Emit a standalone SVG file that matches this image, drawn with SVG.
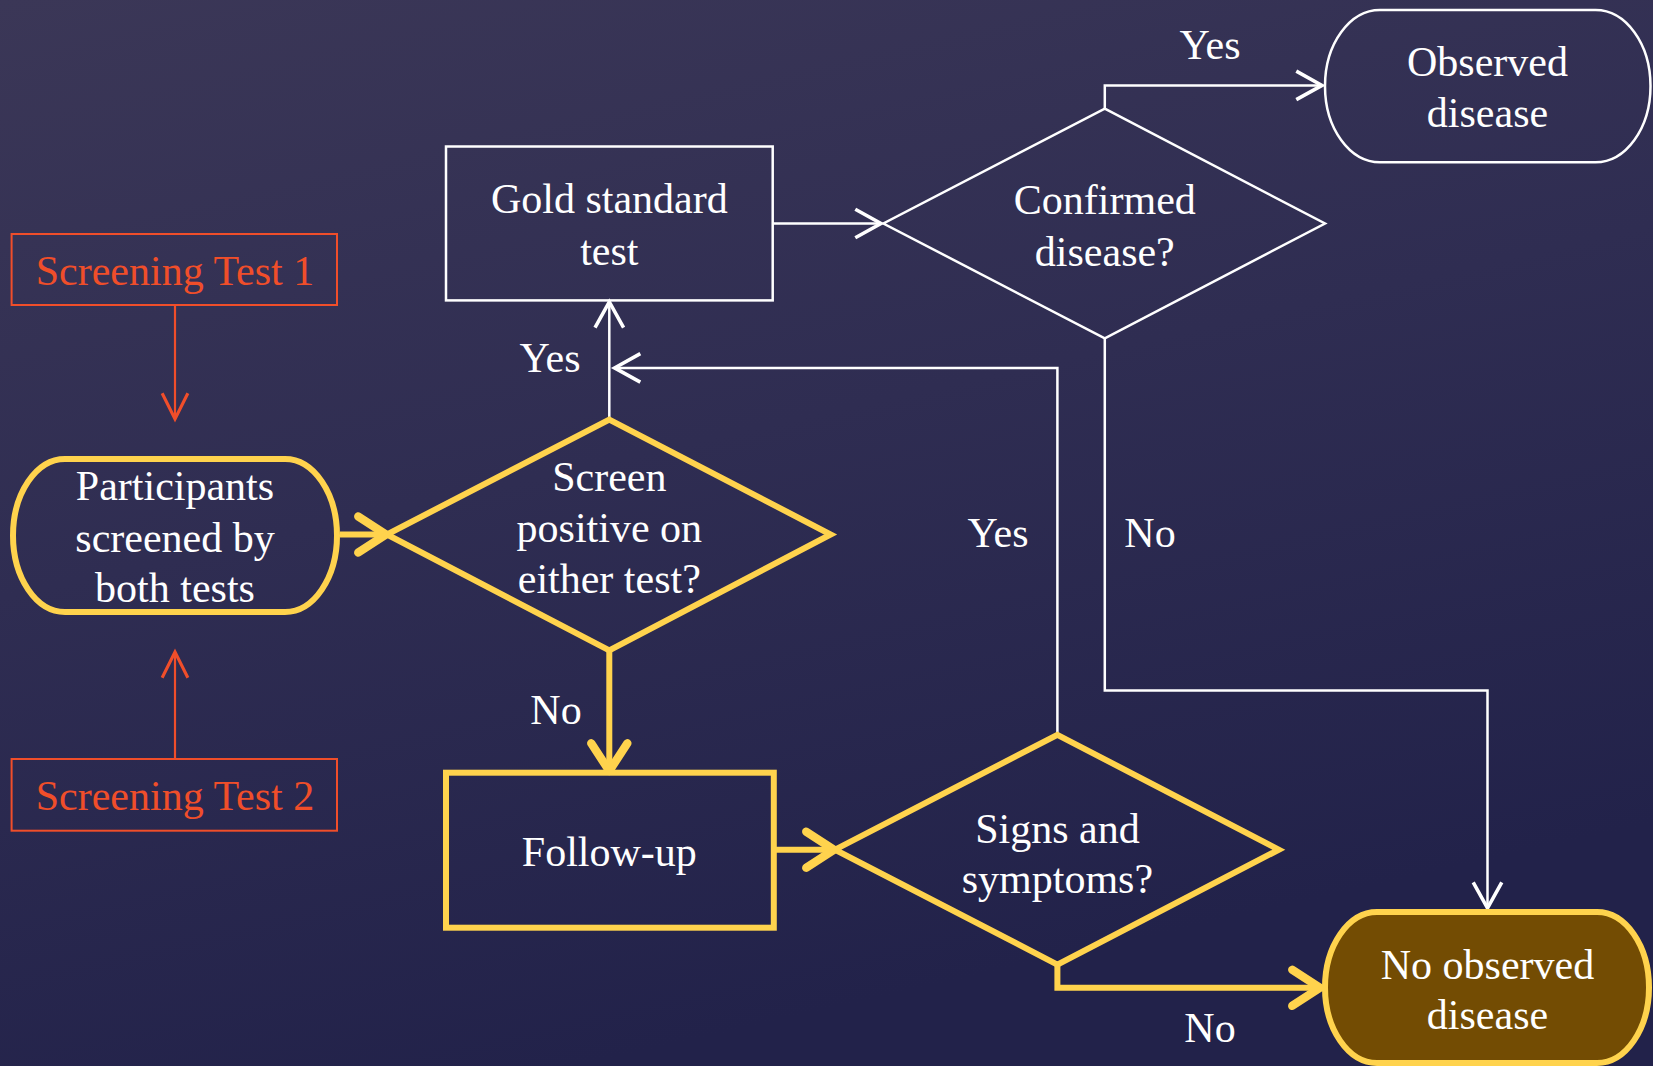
<svg xmlns="http://www.w3.org/2000/svg" width="1653" height="1066" viewBox="0 0 1653 1066">
<defs>
<linearGradient id="bg" x1="0" y1="0" x2="0.35" y2="1">
<stop offset="0" stop-color="#3b3757"/>
<stop offset="0.5" stop-color="#2f2d52"/>
<stop offset="1" stop-color="#22224a"/>
</linearGradient>
<marker id="aw" markerUnits="userSpaceOnUse" orient="auto" refX="0" refY="0" markerWidth="40" markerHeight="40" viewBox="-22 -14 26 28" overflow="visible">
<path d="M -18 -10 L 0 0 L -18 10" fill="none" stroke="#ffffff" stroke-width="2.5"/>
</marker>
<marker id="ar" markerUnits="userSpaceOnUse" orient="auto" refX="0" refY="0" markerWidth="40" markerHeight="40" viewBox="-22 -14 26 28" overflow="visible">
<path d="M -18 -9 L 0 0 L -18 9" fill="none" stroke="#f04e2a" stroke-width="2.2"/>
</marker>
<marker id="ay" markerUnits="userSpaceOnUse" orient="auto" refX="0" refY="0" markerWidth="50" markerHeight="50" viewBox="-26 -18 30 36" overflow="visible">
<path d="M -20 -13 L 0 0 L -20 13" fill="none" stroke="#ffd34d" stroke-width="6" stroke-linecap="round" stroke-linejoin="round"/>
</marker>
</defs>
<style>
text{font-family:"Liberation Serif","Times New Roman",serif;font-size:42px;fill:#ffffff;text-anchor:middle}
.red{fill:#f04e2a}
.wn{fill:none;stroke:#ffffff;stroke-width:2.5}
.yn{fill:none;stroke:#ffd34d;stroke-width:6}
.rn{fill:none;stroke:#f04e2a;stroke-width:2}
.wl{fill:none;stroke:#ffffff;stroke-width:2.5}
.yl{fill:none;stroke:#ffd34d;stroke-width:6}
.rl{fill:none;stroke:#f04e2a;stroke-width:2.2}
</style>
<rect x="0" y="0" width="1653" height="1066" fill="url(#bg)"/>

<g id="connectors">
<polyline class="wl" points="1104.8,108.6 1104.8,85.4 1322,85.4" marker-end="url(#aw)"/>
<polyline class="wl" points="772.7,223.5 881,223.5" marker-end="url(#aw)"/>
<polyline class="wl" points="609.3,419.6 609.3,302" marker-end="url(#aw)"/>
<polyline class="wl" points="1057.4,734.8 1057.4,367.9 614.6,367.9" marker-end="url(#aw)"/>
<polyline class="wl" points="1104.8,338.4 1104.8,690.5 1487.5,690.5 1487.5,908" marker-end="url(#aw)"/>
<polyline class="rl" points="175,305 175,419" marker-end="url(#ar)"/>
<polyline class="rl" points="175,759 175,652" marker-end="url(#ar)"/>
<polyline class="yl" points="340,534.5 386,534.5" marker-end="url(#ay)"/>
<polyline class="yl" points="609.3,650.4 609.3,771" marker-end="url(#ay)"/>
<polyline class="yl" points="776,849.7 834,849.7" marker-end="url(#ay)"/>
<polyline class="yl" points="1057.4,964.6 1057.4,987.8 1320,987.8" marker-end="url(#ay)"/>
<text x="1210" y="59">Yes</text>
<text x="550" y="372">Yes</text>
<text x="998" y="547">Yes</text>
<text x="1150" y="547">No</text>
<text x="556" y="724">No</text>
<text x="1210" y="1042">No</text>
</g>

<g id="screening-test-1">
<rect class="rn" x="11.6" y="234" width="325.4" height="71"/>
<text class="red" x="175" y="285">Screening Test 1</text>
</g>
<g id="screening-test-2">
<rect class="rn" x="11.6" y="759" width="325.4" height="71.7"/>
<text class="red" x="175" y="810">Screening Test 2</text>
</g>
<g id="participants">
<rect class="yn" x="13" y="459" width="324" height="153" rx="52" ry="76.5"/>
<text x="175" y="500">Participants</text>
<text x="175" y="551.5">screened by</text>
<text x="175" y="602">both tests</text>
</g>
<g id="screen-positive">
<polygon class="yn" points="609.3,419.6 830.7,534.5 609.3,650.4 386.9,534.5"/>
<text x="609.3" y="490.5">Screen</text>
<text x="609.3" y="542">positive on</text>
<text x="609.3" y="593">either test?</text>
</g>
<g id="gold-standard">
<rect class="wn" x="446" y="146.5" width="326.7" height="153.9"/>
<text x="609.3" y="213">Gold standard</text>
<text x="609.3" y="265">test</text>
</g>
<g id="confirmed-disease">
<polygon class="wn" points="1104.8,108.6 1325,223.5 1104.8,338.4 883.4,223.5"/>
<text x="1104.8" y="214">Confirmed</text>
<text x="1104.8" y="266">disease?</text>
</g>
<g id="observed-disease">
<rect class="wn" x="1325" y="10" width="325.5" height="152.3" rx="55" ry="76"/>
<text x="1487.5" y="76">Observed</text>
<text x="1487.5" y="127">disease</text>
</g>
<g id="follow-up">
<rect class="yn" x="446" y="772.7" width="327.8" height="155"/>
<text x="609.3" y="866">Follow-up</text>
</g>
<g id="signs-symptoms">
<polygon class="yn" points="1057.4,734.8 1278.8,849.7 1057.4,964.6 835,849.7"/>
<text x="1057.4" y="842.6">Signs and</text>
<text x="1057.4" y="893">symptoms?</text>
</g>
<g id="no-observed-disease">
<rect x="1325" y="912" width="324" height="151" rx="52" ry="75.5" fill="#734c03" stroke="#ffd34d" stroke-width="6"/>
<text x="1487.5" y="978.6">No observed</text>
<text x="1487.5" y="1029">disease</text>
</g>
</svg>
